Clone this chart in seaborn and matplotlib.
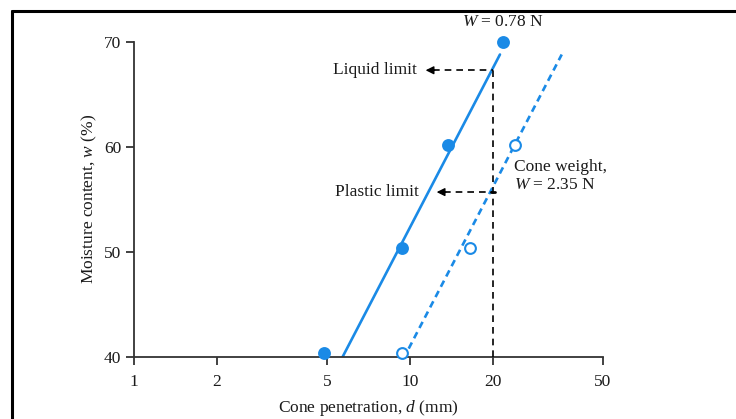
import matplotlib
matplotlib.use("Agg")
import matplotlib.pyplot as plt
import seaborn as sns
import pandas as pd
from matplotlib.lines import Line2D
from matplotlib.ticker import FixedLocator, NullLocator

# ---- data ----
d_078 = [4.9, 9.4, 13.7, 21.7]
w_078 = [40.4, 50.4, 60.2, 70.0]
d_235 = [9.4, 16.5, 24.1]
w_235 = [40.4, 50.4, 60.2]
fit_078_d = [5.7, 21.2]
fit_078_w = [40.0, 68.8]
fit_235_d = [9.9, 35.5]
fit_235_w = [40.8, 68.8]
d_limit = 20
liquid_limit = 67.3
plastic_limit = 55.7
x_ticks = [1, 2, 5, 10, 20, 50]
y_ticks = [40, 50, 60, 70]

sns.set_style("ticks")
plt.rcParams["font.family"] = ["Liberation Serif", "DejaVu Serif"]
plt.rcParams["mathtext.fontset"] = "custom"
plt.rcParams["mathtext.it"] = "Liberation Serif:italic"
plt.rcParams["mathtext.rm"] = "Liberation Serif"

BLUE = "#1a8ae6"
DARK = "#333333"
TXT = "#1a1a1a"
FS = 12.5

fig = plt.figure(figsize=(7.36, 4.19), dpi=100)
ax = fig.add_axes([0.182, 0.148, 0.637, 0.752])
ax.set_xscale("log")

df1 = pd.DataFrame({"d": fit_078_d, "w": fit_078_w})
df2 = pd.DataFrame({"d": fit_235_d, "w": fit_235_w})
sns.lineplot(data=df1, x="d", y="w", ax=ax, color=BLUE, lw=1.9, sort=False)
sns.lineplot(data=df2, x="d", y="w", ax=ax, color=BLUE, lw=1.9, sort=False)
ax.lines[-1].set_dashes((2.6, 1.8))

pts1 = pd.DataFrame({"d": d_078, "w": w_078})
pts2 = pd.DataFrame({"d": d_235, "w": w_235})
sns.scatterplot(data=pts1, x="d", y="w", ax=ax, color=BLUE, s=65,
                edgecolor=BLUE, linewidth=1.2, clip_on=False, zorder=5)
sns.scatterplot(data=pts2, x="d", y="w", ax=ax, facecolor="white", s=60,
                edgecolor=BLUE, linewidth=1.5, clip_on=False, zorder=5)

# vertical dashed reading line
ax.plot([d_limit, d_limit], [40, liquid_limit], color="black", lw=1.2,
        dashes=(4, 3), zorder=3)

# arrows to limits
def limit_arrow(y, head_x, text_x, label):
    ax.plot([head_x * 1.06, d_limit], [y, y], color="black", lw=1.2,
            dashes=(4, 3), zorder=3)
    ax.annotate("", xy=(head_x, y), xytext=(head_x * 1.08, y),
                arrowprops=dict(arrowstyle="-|>", color="black", lw=1.0,
                                mutation_scale=12, shrinkA=0, shrinkB=0))
    ax.text(text_x, y, label, ha="right", va="center", fontsize=FS, color=TXT)

limit_arrow(liquid_limit, 11.4, 10.6, "Liquid limit")
limit_arrow(plastic_limit, 12.5, 10.8, "Plastic limit")
ax.plot([d_limit * 0.985, d_limit * 1.015], [plastic_limit, plastic_limit],
        color="black", lw=2.0, zorder=3)

ax.text(21.8, 71.9, "$W$ = 0.78 N", ha="center", va="center", fontsize=FS,
        color=TXT, clip_on=False)
ax.text(23.9, 57.2, "Cone weight,\n$W$ = 2.35 N", ha="left", va="center",
        fontsize=FS, color=TXT, linespacing=1.15)

ax.set_xlim(1, 50)
ax.set_ylim(40, 70)
ax.xaxis.set_major_locator(FixedLocator(x_ticks))
ax.xaxis.set_minor_locator(NullLocator())
ax.set_xticklabels([str(t) for t in x_ticks])
ax.set_yticks(y_ticks)
ax.tick_params(axis="both", direction="out", length=6, width=1.3, color=DARK,
               labelsize=FS, labelcolor=TXT, pad=3)
ax.tick_params(axis="x", pad=6)
for s in ["top", "right"]:
    ax.spines[s].set_visible(False)
for s in ["left", "bottom"]:
    ax.spines[s].set_color(DARK)
    ax.spines[s].set_linewidth(1.3)

ax.set_xlabel("Cone penetration, $d$ (mm)", fontsize=FS, color=TXT, labelpad=6)
ax.set_ylabel("Moisture content, $w$ (%)", fontsize=FS, color=TXT, labelpad=4)

# page frame (top and left edges)
fig.add_artist(Line2D([12 / 736, 1.0], [1 - 11 / 419, 1 - 11 / 419],
                      transform=fig.transFigure, color="black", lw=2.2))
fig.add_artist(Line2D([12 / 736, 12 / 736], [0, 1 - 11 / 419],
                      transform=fig.transFigure, color="black", lw=2.2))

fig.savefig("out.png", dpi=100)
